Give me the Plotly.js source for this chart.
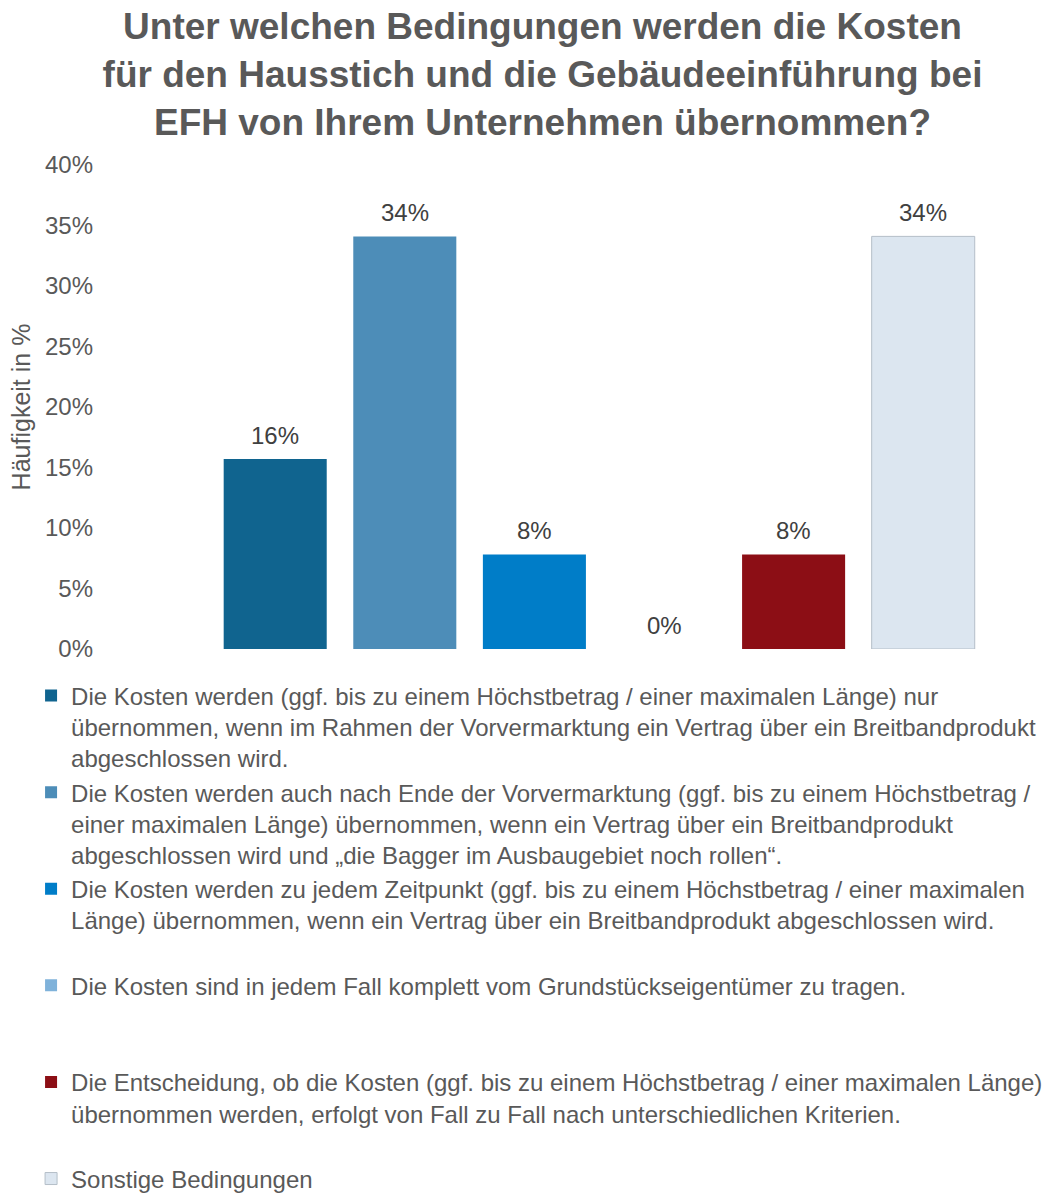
<!DOCTYPE html>
<html>
<head>
<meta charset="utf-8">
<script src="https://cdn.plot.ly/plotly-3.0.1.min.js"></script>
<style>html,body{margin:0;padding:0;background:#fff;}#chart{width:1048px;height:1193px;}</style>
</head>
<body>
<div id="chart"></div>
<script>
const categories = ["Vorvermarktung", "Nach Vorvermarktung", "Jederzeit", "Eigentümer", "Fall zu Fall", "Sonstige"];
const values = [0.157, 0.341, 0.078, 0.0, 0.078, 0.341];
const legendLabels = [
  "Die Kosten werden (ggf. bis zu einem Höchstbetrag / einer maximalen Länge) nur<br>übernommen, wenn im Rahmen der Vorvermarktung ein Vertrag über ein Breitbandprodukt<br>abgeschlossen wird.",
  "Die Kosten werden auch nach Ende der Vorvermarktung (ggf. bis zu einem Höchstbetrag /<br>einer maximalen Länge) übernommen, wenn ein Vertrag über ein Breitbandprodukt<br>abgeschlossen wird und „die Bagger im Ausbaugebiet noch rollen“.",
  "Die Kosten werden zu jedem Zeitpunkt (ggf. bis zu einem Höchstbetrag / einer maximalen<br>Länge) übernommen, wenn ein Vertrag über ein Breitbandprodukt abgeschlossen wird.",
  "Die Kosten sind in jedem Fall komplett vom Grundstückseigentümer zu tragen.",
  "Die Entscheidung, ob die Kosten (ggf. bis zu einem Höchstbetrag / einer maximalen Länge)<br>übernommen werden, erfolgt von Fall zu Fall nach unterschiedlichen Kriterien.",
  "Sonstige Bedingungen"
];
const titleText = "Unter welchen Bedingungen werden die Kosten<br>für den Hausstich und die Gebäudeeinführung bei<br>EFH von Ihrem Unternehmen übernommen?";
const yAxisTitle = "Häufigkeit in %";

const colors = ["#10648F", "#4D8DB8", "#007DC8", "#7FB2DA", "#8C0E15", "#DCE6F0"];
const lineColors = ["#10648F", "#4D8DB8", "#007DC8", "#7FB2DA", "#8C0E15", "#B4BEC8"];
const lineWidths = [0, 0, 0, 0, 0, 1];
const FONT = "Liberation Sans, Arial, sans-serif";
const TXT = "#595959";

function padLines(s, n) {
  const count = s.split("<br>").length;
  let out = s;
  for (let i = count; i < n; i++) out += "<br>\u00a0";
  return out;
}

const traces = categories.map((c, i) => ({
  type: "bar",
  x: [c],
  y: [values[i]],
  name: i < categories.length - 1 ? padLines(legendLabels[i], 3) : legendLabels[i],
  legendgroup: "g" + i,
  marker: { color: colors[i], line: { color: lineColors[i], width: lineWidths[i] } },
  hoverinfo: "x+y"
}));

const annotations = categories.map((c, i) => ({
  x: c,
  y: values[i],
  xref: "x",
  yref: "y",
  text: Math.round(values[i] * 100) + "%",
  showarrow: false,
  yanchor: "middle",
  yshift: 24,
  font: { family: FONT, size: 24, color: "#404040" }
}));

const layout = {
  width: 1048,
  height: 1193,
  paper_bgcolor: "#ffffff",
  plot_bgcolor: "#ffffff",
  margin: { l: 97, r: 60, t: 165, b: 544, autoexpand: false },
  font: { family: FONT, color: TXT, size: 24 },
  title: {
    text: titleText,
    font: { family: FONT, size: 37, color: TXT, weight: "bold" },
    x: 0.5,
    xref: "paper",
    y: 1 - 39 / 1193,
    yref: "container",
    yanchor: "top"
  },
  barmode: "overlay",
  bargap: 0.205,
  xaxis: {
    type: "category",
    categoryorder: "array",
    categoryarray: categories,
    range: [-1.375, 5.5],
    showticklabels: false,
    showgrid: false,
    zeroline: false,
    showline: false,
    ticks: "",
    fixedrange: true
  },
  yaxis: {
    range: [0, 0.4],
    dtick: 0.05,
    tickformat: ".0%",
    showgrid: false,
    zeroline: false,
    showline: false,
    ticks: "",
    ticklabelstandoff: 3,
    tickfont: { family: FONT, size: 24, color: TXT },
    title: { text: yAxisTitle, font: { family: FONT, size: 25, color: TXT }, standoff: 7 },
    fixedrange: true
  },
  showlegend: true,
  legend: {
    orientation: "v",
    x: -0.074,
    xanchor: "left",
    y: -0.0505,
    yanchor: "top",
    traceorder: "grouped",
    tracegroupgap: 0,
    valign: "top",
    font: { family: FONT, size: 24, color: TXT },
    bgcolor: "rgba(0,0,0,0)"
  },
  annotations: annotations
};

Plotly.newPlot("chart", traces, layout, { displayModeBar: false, staticPlot: true });
</script>
</body>
</html>
